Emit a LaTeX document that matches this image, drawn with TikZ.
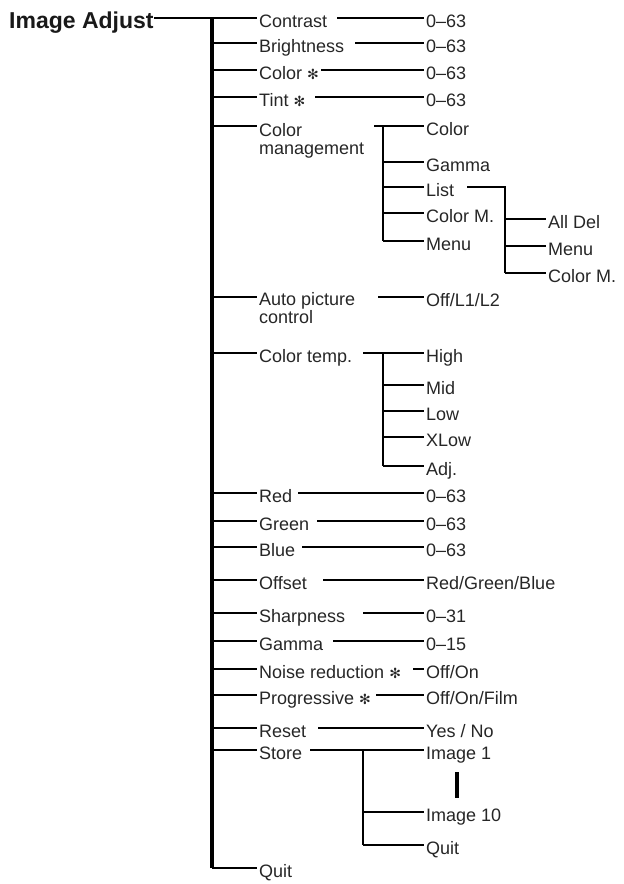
\documentclass[tikz,border=0pt]{standalone}
\usepackage{fontspec}
\setmainfont{Liberation Sans}
\newfontfamily\symfont{DejaVu Sans}
\newcommand\myast{{\symfont\fontsize{14}{14}\selectfont ✻}}
\begin{document}
\begin{tikzpicture}[x=1pt,y=-1pt,
  ln/.style={line width=2.8pt, black},
  trunk/.style={line width=3.2pt, black},
  lab/.style={anchor=base west, inner xsep=2pt, inner ysep=0pt, font=\fontsize{18}{18}\selectfont, text=black!85},
  ttl/.style={anchor=base west, inner sep=0pt, font=\bfseries\fontsize{23}{23}\selectfont, text=black!90}]
\useasboundingbox (0,0) rectangle (624,884);
% title and trunk
\node[ttl] (title) at (9,28) {Image Adjust};
\coordinate (ttop) at (212,18);
\coordinate (tbot) at (212,868);
\draw[trunk] (ttop) -- (tbot);
\draw[ln] (title.east |- ttop) -- (ttop);
% ---- rows: left labels
\foreach \n/\y in {a/18,b/43,c/70,d/97,e/126,f/297,g/353,h/493,i/521,j/547,k/580,l/613,m/641,n/669,o/695,p/728,q/750,r/868}
  {\coordinate (c\n) at (212,\y);}
\node[lab] (la) at (257,27) {Contrast};
\node[lab] (lb) at (257,52) {Brightness};
\node[lab] (lc) at (257,79) {Color \myast};
\node[lab] (ld) at (257,106) {Tint \myast};
\node[lab] (le) at (257,136) {Color};
\node[lab] (le2) at (257,154) {management};
\node[lab] (lf) at (257,305) {Auto picture};
\node[lab] (lf2) at (257,323) {control};
\node[lab] (lg) at (257,362) {Color temp.};
\node[lab] (lh) at (257,502) {Red};
\node[lab] (li) at (257,530) {Green};
\node[lab] (lj) at (257,556) {Blue};
\node[lab] (lk) at (257,589) {Offset};
\node[lab] (ll) at (257,622) {Sharpness};
\node[lab] (lm) at (257,650) {Gamma};
\node[lab] (ln) at (257,678) {Noise reduction \myast};
\node[lab] (lo) at (257,704) {Progressive \myast};
\node[lab] (lp) at (257,737) {Reset};
\node[lab] (lq) at (257,759) {Store};
\node[lab] (lr) at (257,877) {Quit};
\foreach \n in {a,b,c,d,e,f,g,h,i,j,k,l,m,n,o,p,q,r}
  {\draw[ln] (c\n) -- (l\n.west |- c\n);}
% ---- right values
\node[lab] (va) at (424,27) {0–63};
\node[lab] (vb) at (424,52) {0–63};
\node[lab] (vc) at (424,79) {0–63};
\node[lab] (vd) at (424,106) {0–63};
\node[lab] (ve) at (424,135) {Color};
\node[lab] (vf) at (424,306) {Off/L1/L2};
\node[lab] (vg) at (424,362) {High};
\node[lab] (vh) at (424,502) {0–63};
\node[lab] (vi) at (424,530) {0–63};
\node[lab] (vj) at (424,556) {0–63};
\node[lab] (vk) at (424,589) {Red/Green/Blue};
\node[lab] (vl) at (424,622) {0–31};
\node[lab] (vm) at (424,650) {0–15};
\node[lab] (vn) at (424,678) {Off/On};
\node[lab] (vo) at (424,704) {Off/On/Film};
\node[lab] (vp) at (424,737) {Yes / No};
\node[lab] (vq) at (424,759) {Image 1};
\foreach \n/\x/\y in {a/337/18,b/355/43,c/321/70,d/315/97,e/374/126,f/378/297,g/363/353,h/298/493,i/317/521,j/302/547,k/323/580,l/363/613,m/333/641,n/413/669,o/376/695,p/318/728,q/310/750}
  {\coordinate (s\n) at (\x,\y); \draw[ln] (s\n) -- (v\n.west |- s\n);}
% ---- Color management submenu
\coordinate (cmtop) at (383,126);
\coordinate (cmbot) at (383,241);
\draw[ln] (cmtop) -- (cmbot);
\node[lab] (cm1) at (424,171) {Gamma};
\node[lab] (cm2) at (424,196) {List};
\node[lab] (cm3) at (424,222) {Color M.};
\node[lab] (cm4) at (424,250) {Menu};
\foreach \n/\y in {1/162,2/187,3/213,4/241}
  {\coordinate (cmj\n) at (383,\y); \draw[ln] (cmj\n) -- (cm\n.west |- cmj\n);}
% ---- List submenu
\coordinate (lsa) at (467,187);
\coordinate (lstop) at (505,187);
\coordinate (lsbot) at (505,273);
\draw[ln] (lsa) -- (lstop) -- (lsbot);
\node[lab] (ls1) at (546,228) {All Del};
\node[lab] (ls2) at (546,255) {Menu};
\node[lab] (ls3) at (546,282) {Color M.};
\foreach \n/\y in {1/219,2/246,3/273}
  {\coordinate (lsj\n) at (505,\y); \draw[ln] (lsj\n) -- (ls\n.west |- lsj\n);}
% ---- Color temp submenu
\coordinate (cttop) at (383,353);
\coordinate (ctbot) at (383,466);
\draw[ln] (cttop) -- (ctbot);
\node[lab] (ct1) at (424,394) {Mid};
\node[lab] (ct2) at (424,420) {Low};
\node[lab] (ct3) at (424,446) {XLow};
\node[lab] (ct4) at (424,475) {Adj.};
\foreach \n/\y in {1/385,2/411,3/437,4/466}
  {\coordinate (ctj\n) at (383,\y); \draw[ln] (ctj\n) -- (ct\n.west |- ctj\n);}
% ---- Store submenu
\coordinate (sttop) at (363,750);
\coordinate (stbot) at (363,845);
\draw[ln] (sttop) -- (stbot);
\node[lab] (st1) at (424,821) {Image 10};
\node[lab] (st2) at (424,854) {Quit};
\foreach \n/\y in {1/812,2/845}
  {\coordinate (stj\n) at (363,\y); \draw[ln] (stj\n) -- (st\n.west |- stj\n);}
\coordinate (ima) at (457,772);
\coordinate (imb) at (457,798);
\draw[line width=3.5pt] (ima) -- (imb);
\end{tikzpicture}
\end{document}
